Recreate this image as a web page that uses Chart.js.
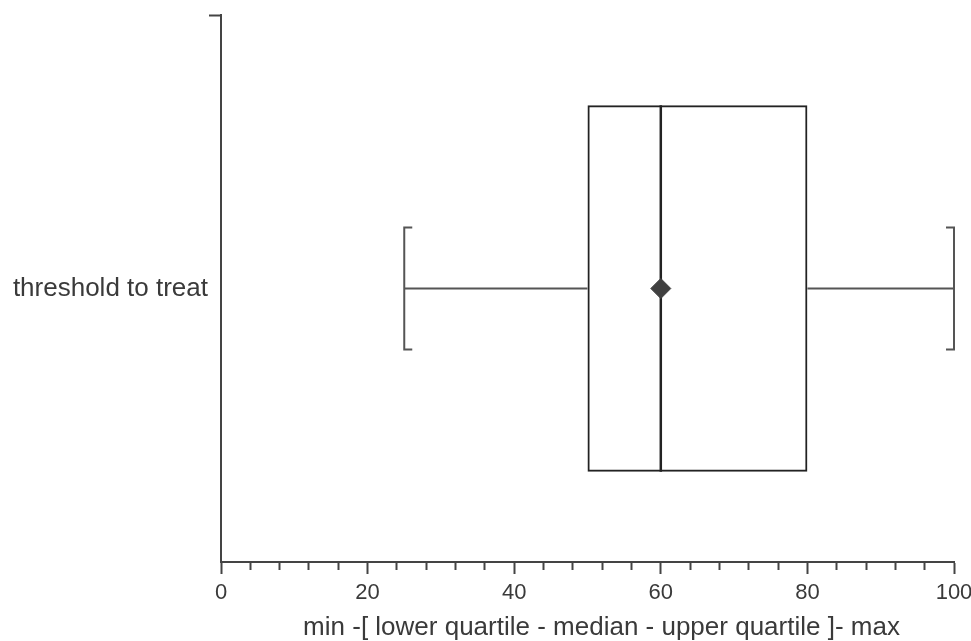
<!DOCTYPE html>
<html><head><meta charset="utf-8">
<script src="https://cdn.jsdelivr.net/npm/chart.js@4/dist/chart.umd.min.js"></script>
<style>html,body{margin:0;padding:0;background:#fff}#wrap{width:971px;height:641px}</style>
</head><body><div id="wrap"><canvas id="c" width="971" height="641"></canvas></div>
<script>
const categories = ['threshold to treat'];
const minValues = [25];
const q1Values = [50];
const medianValues = [60];
const q3Values = [80];
const maxValues = [100];
const meanValues = [60];
const xMin = 0, xMax = 100;
const xMajorStep = 20;
const xMinorStep = 4;
const xAxisTitle = 'min -[ lower quartile - median - upper quartile ]- max';

const FONT = "'Liberation Sans', Arial, Helvetica, sans-serif";
const TEXT = '#3a3a3a';
const AXIS = '#444444';

const whiskerPlugin = {
  id: 'whiskers',
  afterDatasetDraw(chart, args) {
    if (args.index !== 1) return;
    const xs = chart.scales.x;
    const ctx = chart.ctx;
    const px = v => xs.getPixelForValue(v);
    args.meta.data.forEach((bar, i) => {
      const p = bar.getProps(['y', 'height'], true);
      const cy = p.y, half = p.height / 2, capHalf = half / 3, capLen = 8;
      ctx.save();
      ctx.lineCap = 'butt';
      ctx.strokeStyle = '#222222';
      ctx.lineWidth = 2.5;
      ctx.beginPath();
      ctx.moveTo(px(medianValues[i]), cy - half);
      ctx.lineTo(px(medianValues[i]), cy + half);
      ctx.stroke();
      ctx.strokeStyle = '#555555';
      ctx.lineWidth = 2;
      ctx.beginPath();
      ctx.moveTo(px(minValues[i]), cy); ctx.lineTo(px(q1Values[i]), cy);
      ctx.moveTo(px(q3Values[i]), cy); ctx.lineTo(px(maxValues[i]), cy);
      ctx.stroke();
      const lo = px(minValues[i]), hi = px(maxValues[i]);
      ctx.beginPath();
      ctx.moveTo(lo + capLen, cy - capHalf); ctx.lineTo(lo, cy - capHalf);
      ctx.lineTo(lo, cy + capHalf); ctx.lineTo(lo + capLen, cy + capHalf);
      ctx.moveTo(hi - capLen, cy - capHalf); ctx.lineTo(hi, cy - capHalf);
      ctx.lineTo(hi, cy + capHalf); ctx.lineTo(hi - capLen, cy + capHalf);
      ctx.stroke();
      ctx.restore();
    });
  }
};

const axisTitlePlugin = {
  id: 'axisTitle',
  afterDraw(chart) {
    const ca = chart.chartArea;
    const ctx = chart.ctx;
    ctx.save();
    ctx.fillStyle = TEXT;
    ctx.font = '26px ' + FONT;
    ctx.textAlign = 'center';
    ctx.textBaseline = 'alphabetic';
    ctx.fillText(xAxisTitle, (ca.left + ca.right) / 2 + 14, chart.height - 6);
    ctx.restore();
  }
};

new Chart(document.getElementById('c'), {
  type: 'bar',
  data: {
    labels: categories,
    datasets: [
      {
        type: 'scatter',
        label: 'mean',
        data: categories.map((c, i) => ({ x: meanValues[i], y: c })),
        pointStyle: 'rectRot',
        pointRadius: 10,
        pointHoverRadius: 10,
        backgroundColor: '#404040',
        borderColor: '#404040',
        borderWidth: 1
      },
      {
        type: 'bar',
        label: 'box',
        data: categories.map((c, i) => [q1Values[i], q3Values[i]]),
        backgroundColor: 'rgba(255,255,255,0)',
        borderColor: '#222222',
        borderWidth: 2,
        borderSkipped: false,
        categoryPercentage: 1,
        barPercentage: 0.67
      }
    ]
  },
  options: {
    indexAxis: 'y',
    responsive: false,
    animation: false,
    devicePixelRatio: 1,
    layout: { padding: { top: 15, right: 17, left: 0, bottom: 0 } },
    plugins: { legend: { display: false }, tooltip: { enabled: false }, title: { display: false } },
    scales: {
      x: {
        type: 'linear',
        min: xMin,
        max: xMax,
        afterFit: s => { s.height = 79; s.paddingLeft = 0; s.paddingRight = 0; },
        border: { display: true, color: AXIS, width: 2 },
        grid: {
          display: true,
          drawOnChartArea: false,
          drawTicks: true,
          tickLength: 12,
          tickWidth: 2,
          tickColor: AXIS,
          tickBorderDash: c => (c.tick && c.tick.value % xMajorStep === 0) ? [] : [7, 30]
        },
        ticks: {
          stepSize: xMinorStep,
          autoSkip: false,
          maxRotation: 0,
          padding: 6,
          color: TEXT,
          font: { family: FONT, size: 22 },
          callback: v => (v % xMajorStep === 0 ? String(v) : '')
        },
        title: { display: false }
      },
      y: {
        type: 'category',
        offset: true,
        afterFit: s => { s.width = 221; s.paddingTop = 0; s.paddingBottom = 0; },
        border: { display: true, color: AXIS, width: 2 },
        grid: {
          display: true,
          offset: true,
          drawOnChartArea: false,
          tickLength: 12,
          tickWidth: 2,
          tickColor: c => (c.type === 'tick' ? AXIS : 'rgba(0,0,0,0)')
        },
        ticks: {
          padding: 1,
          color: TEXT,
          font: { family: FONT, size: 26 }
        }
      }
    }
  },
  plugins: [whiskerPlugin, axisTitlePlugin]
});
</script>
</body></html>
